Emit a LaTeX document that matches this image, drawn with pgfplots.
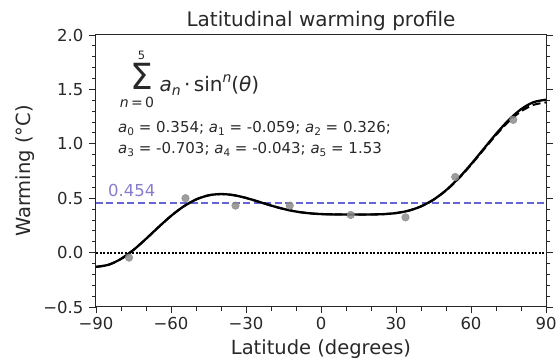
\documentclass[border=0pt]{standalone}
\usepackage{fontspec}
\setmainfont{DejaVu Sans}
\usepackage{pgfplots}
\pgfplotsset{compat=1.18}
\definecolor{meanline}{RGB}{100,100,210}
\definecolor{meanlabel}{RGB}{135,125,205}
\definecolor{txt}{RGB}{40,40,40}
\definecolor{pts}{RGB}{140,140,140}
\newcommand{\asub}[1]{\textit{a}\raisebox{-0.22em}{\fontsize{10.5}{12}\selectfont #1}}
\begin{document}
\begin{tikzpicture}
\begin{axis}[
 scale only axis, width=450pt, height=272pt,
 xmin=-90, xmax=90, ymin=-0.5, ymax=2.0,
 xtick={-90,-60,-30,0,30,60,90},
 xticklabels={−90,−60,−30,0,30,60,90},
 ytick={-0.5,0,0.5,1,1.5,2},
 yticklabels={−0.5,0.0,0.5,1.0,1.5,2.0},
 minor x tick num=2, minor y tick num=4,
 tick align=outside,
 xtick pos=lower, ytick pos=both, yticklabel pos=left,
 major tick length=6.5pt, minor tick length=4pt,
 every tick/.style={black!85, line width=0.9pt},
 axis line style={black!85, line width=1pt},
 tick label style={font=\fontsize{16.5}{18}\selectfont, text=txt},
 yticklabel style={xshift=-2.5pt},
 clip=true,
]
\addplot[only marks, mark=*, mark size=3.8pt, color=pts, mark options={fill=pts, draw=none, fill opacity=0.85}] coordinates {
(-76.8,-0.046) (-54.2,0.50) (-34.2,0.432) (-12.5,0.432) (11.9,0.346) (33.8,0.324) (53.7,0.695) (76.9,1.22)};
\addplot[meanline, line width=1.5pt, dash pattern=on 7pt off 3.5pt] coordinates {(-90,0.454) (90,0.454)};
\addplot[black, line width=2pt, dash pattern=on 2pt off 1.6pt] coordinates {(-90,0) (90,0)};
\addplot[black, line width=2pt, dash pattern=on 8pt off 4pt, smooth] coordinates {
(-90,-0.131) (-85,-0.112) (-80,-0.058) (-75,0.0248) (-70,0.1261) (-65,0.2340) (-60,0.3367) (-55,0.4238) (-50,0.4881) (-45,0.5261) (-40,0.5381) (-35,0.5281) (-30,0.5024) (-25,0.4682) (-20,0.4327) (-15,0.4013) (-10,0.3775) (-5,0.3621) (0,0.354) (5,0.3509) (10,0.3501) (15,0.3500) (20,0.3504) (25,0.3535) (30,0.3633) (35,0.3851) (40,0.4246) (45,0.4855) (50,0.570) (55,0.678) (60,0.806) (65,0.944) (70,1.080) (75,1.203) (80,1.298) (85,1.358) (90,1.380)};
\addplot[black, line width=2.3pt, smooth] coordinates {
(-90,-0.131) (-85,-0.112) (-80,-0.058) (-75,0.0248) (-70,0.1261) (-65,0.2340) (-60,0.3367) (-55,0.4238) (-50,0.4881) (-45,0.5261) (-40,0.5381) (-35,0.5281) (-30,0.5024) (-25,0.4682) (-20,0.4327) (-15,0.4013) (-10,0.3775) (-5,0.3621) (0,0.354) (5,0.3509) (10,0.3501) (15,0.3500) (20,0.3504) (25,0.3535) (30,0.3633) (35,0.3851) (40,0.4246) (45,0.4865) (50,0.5729) (55,0.6830) (60,0.8119) (65,0.9515) (70,1.0906) (75,1.2167) (80,1.3175) (85,1.3825) (90,1.405)};
\node[anchor=base west, inner sep=0, font=\fontsize{16.5}{18}\selectfont, text=meanlabel] at (axis cs:-85.2,0.514) {0.454};
% formula
\node[anchor=base west, inner sep=0, font=\fontsize{36}{38}\selectfont, text=txt] at (axis cs:-76.2,1.50) {Σ};
\node[anchor=base, inner sep=0, font=\fontsize{11.5}{12}\selectfont, text=txt] at (axis cs:-71.8,1.775) {5};
\node[anchor=base, inner sep=0, font=\fontsize{14}{15}\selectfont, text=txt] at (axis cs:-73.6,1.33) {\textit{n}\,=\,0};
\node[anchor=base west, inner sep=0, font=\fontsize{20}{22}\selectfont, text=txt] at (axis cs:-64.6,1.485) {\textit{a}\raisebox{-0.22em}{\fontsize{14}{15}\selectfont\textit{n}}\,·\,sin\raisebox{0.45em}{\fontsize{14}{15}\selectfont\textit{n}}(\textit{θ})};
\node[anchor=base west, inner sep=0, font=\fontsize{15}{17}\selectfont, text=txt] at (axis cs:-81.2,1.108) {\asub{0} = 0.354; \asub{1} = -0.059; \asub{2} = 0.326;};
\node[anchor=base west, inner sep=0, font=\fontsize{15}{17}\selectfont, text=txt] at (axis cs:-81.2,0.915) {\asub{3} = -0.703; \asub{4} = -0.043; \asub{5} = 1.53};
\coordinate (sw) at (rel axis cs:0,0);
\coordinate (ne) at (rel axis cs:1,1);
\coordinate (tt) at (rel axis cs:0.5,1);
\coordinate (xl) at (rel axis cs:0.5,0);
\coordinate (yl) at (rel axis cs:0,0.5);
\end{axis}
\node[anchor=base, inner sep=0, font=\fontsize{20}{24}\selectfont, text=txt] at ([yshift=8.3pt]tt) {Latitudinal warming profile};
\node[anchor=base, inner sep=0, font=\fontsize{19.5}{22}\selectfont, text=txt] at ([yshift=-48pt]xl) {Latitude (degrees)};
\node[anchor=base, rotate=90, inner sep=0, font=\fontsize{19.5}{22}\selectfont, text=txt] at ([xshift=-65pt]yl) {Warming (°C)};
\pgfresetboundingbox
\path[use as bounding box] ([shift={(-96pt,-56pt)}]sw) rectangle ([shift={(11pt,35pt)}]ne);
\end{tikzpicture}
\end{document}
